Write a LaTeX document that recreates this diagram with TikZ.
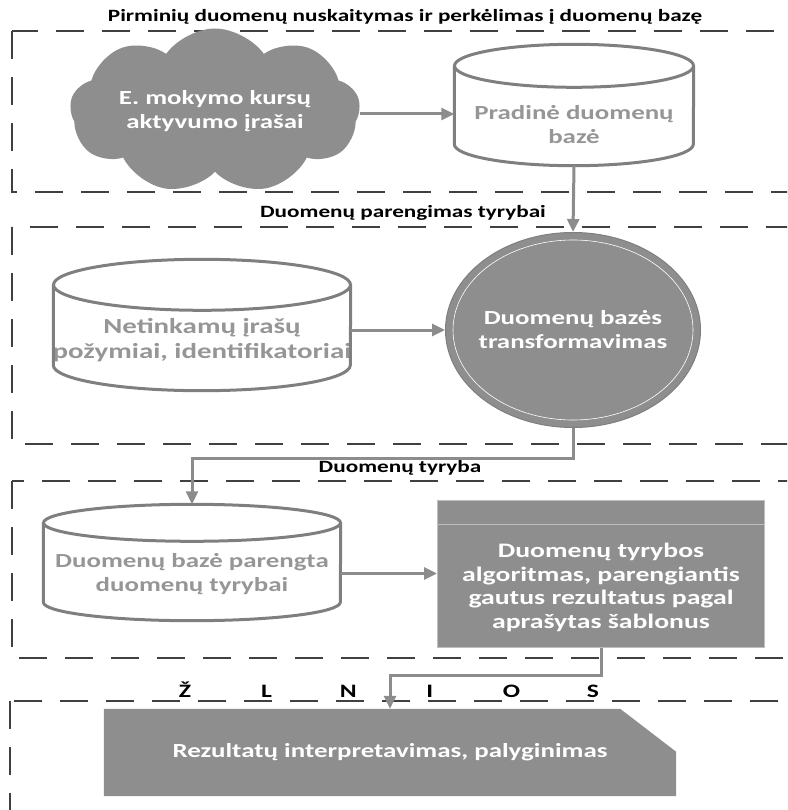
\documentclass[tikz,border=0pt]{standalone}
\usepackage{fontspec}
\newfontfamily\diagfont{Carlito}[FakeStretch=1.345]
\usetikzlibrary{positioning,shapes.geometric,shapes.symbols,arrows.meta}

\begin{document}
\begin{tikzpicture}[x=1pt, y=-1pt,
    zona/.style={draw=colorRemas, line width=1.8pt, dash pattern=on 28pt off 18pt},
    antraste/.style={font=\diagfont\bfseries\fontsize{17.25}{20}\selectfont, text=black, inner sep=0pt},
    tekstas/.style={font=\diagfont\bfseries\fontsize{20}{24}\selectfont, align=center},
    baze/.style={inner sep=0pt},
    cilindras/.style={draw=colorKontur, line width=3pt},
    bazetekstas/.style={tekstas, text=colorTekstas},
    blokas/.style={fill=colorPilka, text=white, tekstas},
    rodykle/.style={draw=colorRodykle, line width=3pt, -{Triangle[length=13pt,width=12pt]}}
    ]
    % Spalvos
    \definecolor{colorPilka}{RGB}{142,142,142}
    \definecolor{colorKontur}{RGB}{127,127,127}
    \definecolor{colorTekstas}{RGB}{150,150,150}
    \definecolor{colorRodykle}{RGB}{140,140,140}
    \definecolor{colorRibos}{RGB}{190,190,190}
    \definecolor{colorRemas}{RGB}{64,64,64}

    \useasboundingbox (0,0) rectangle (787,810);
    \clip (0,0) rectangle (787,810);

    % Zonos
    \draw[zona] (12,31) rectangle (830,192);
    \draw[zona] (12,227) rectangle (830,444);
    \draw[zona] (12,481) rectangle (830,658);
    \draw[zona] (10,701) rectangle (830,840);

    \node[antraste] (antr1) at (405,17) {Pirminių duomenų nuskaitymas ir perkėlimas į duomenų bazę};
    \node[antraste] (antr2) at (403,213) {Duomenų parengimas tyrybai};
    \node[antraste] (antr3) at (400,468) {Duomenų tyryba};
    \node[antraste, font=\diagfont\bfseries\fontsize{19}{22}\selectfont] (antr4) at (389,690) {\makebox[81.6pt]{Ž}\makebox[81.6pt]{L}\makebox[81.6pt]{N}\makebox[81.6pt]{I}\makebox[81.6pt]{O}\makebox[81.6pt]{S}};

    % Pirminiai duomenys
    \node[blokas, cloud, cloud puffs=9, cloud puff arc=110, aspect=2.3, minimum width=290pt, minimum height=128pt] (debesis) at (215,111) {E. mokymo kursų\\aktyvumo įrašai};
    \node[baze, minimum width=239pt, minimum height=121pt] (pradine) at (574,105) {};
    \node[bazetekstas] (pradinetekstas) at ([yshift=-20pt]pradine.center) {Pradinė duomenų\\bazė};

    % Parengimas
    \node[baze, minimum width=297pt, minimum height=131pt] (netinkami) at (202,325) {};
    \node[bazetekstas, font=\diagfont\bfseries\fontsize{21.5}{25}\selectfont] (netinkamitekstas) at ([yshift=-15pt]netinkami.center) {Netinkamų įrašų\\požymiai, identifikatoriai};
    \node[blokas, ellipse, draw=colorKontur, line width=1pt, minimum width=255pt, minimum height=195pt] (transform) at (573,330) {};
    \draw[white, line width=0.6pt] (transform.center) ellipse [x radius=120pt, y radius=90pt];
    \node[tekstas, text=white] (transtekstas) at (transform.center) {Duomenų bazės\\transformavimas};

    % Tyryba
    \node[baze, minimum width=297pt, minimum height=116pt] (parengta) at (192,562.5) {};
    \node[bazetekstas] (parengtatekstas) at ([yshift=-12pt]parengta.center) {Duomenų bazė parengta\\duomenų tyrybai};
    \node[blokas, draw=colorRibos, line width=1pt, minimum width=327pt, minimum height=147pt] (algoritmas) at (601,573.5) {};
    \draw[colorRibos, line width=1pt] ([yshift=-25pt]algoritmas.north west) -- ([yshift=-25pt]algoritmas.north east);
    \node[tekstas, text=white, font=\diagfont\bfseries\fontsize{20.6}{23.7}\selectfont] (algtekstas) at (601,587.5) {Duomenų tyrybos\\algoritmas, parengiantis\\gautus rezultatus pagal\\aprašytas šablonus};

    % Duomenų bazių cilindrai
    \foreach \vardas/\rx/\ry in {pradine/119.5/21.5, netinkami/148.5/25.5, parengta/148.5/18.5}{
        \draw[cilindras] ([yshift=-\ry pt]\vardas.north) ellipse [x radius=\rx pt, y radius=\ry pt];
        \draw[cilindras] ([yshift=-\ry pt]\vardas.north west) -- ([yshift=\ry pt]\vardas.south west)
            arc[start angle=180, end angle=360, x radius=\rx pt, y radius=\ry pt] -- ([yshift=-\ry pt]\vardas.north east);
    }

    % Žinios
    \node[minimum width=572pt, minimum height=87pt, inner sep=0pt] (rezultatai) at (390,752.5) {};
    \fill[colorPilka] (rezultatai.south west) -- (rezultatai.north west) -- ([xshift=-56pt]rezultatai.north east) -- ([yshift=-43pt]rezultatai.north east) -- (rezultatai.south east) -- cycle;
    \node[tekstas, text=white] (reztekstas) at (rezultatai.center) {Rezultatų interpretavimas, palyginimas};

    % Rodyklės
    \draw[rodykle] ([yshift=-3pt]debesis.east) -- ([yshift=-3pt]debesis.east -| pradine.west);
    \draw[rodykle] (pradine.south) -- (transform.north);
    \draw[rodykle] (transform.west -| netinkami.east) -- (transform.west);
    \draw[rodykle] (transform.south) -- ++(0,30) -| (parengta.north);
    \draw[rodykle] (algoritmas.west -| parengta.east) -- (algoritmas.west);
    \draw[rodykle] (algoritmas.south) -- ++(0,28) -| (rezultatai.north);
\end{tikzpicture}
\end{document}
